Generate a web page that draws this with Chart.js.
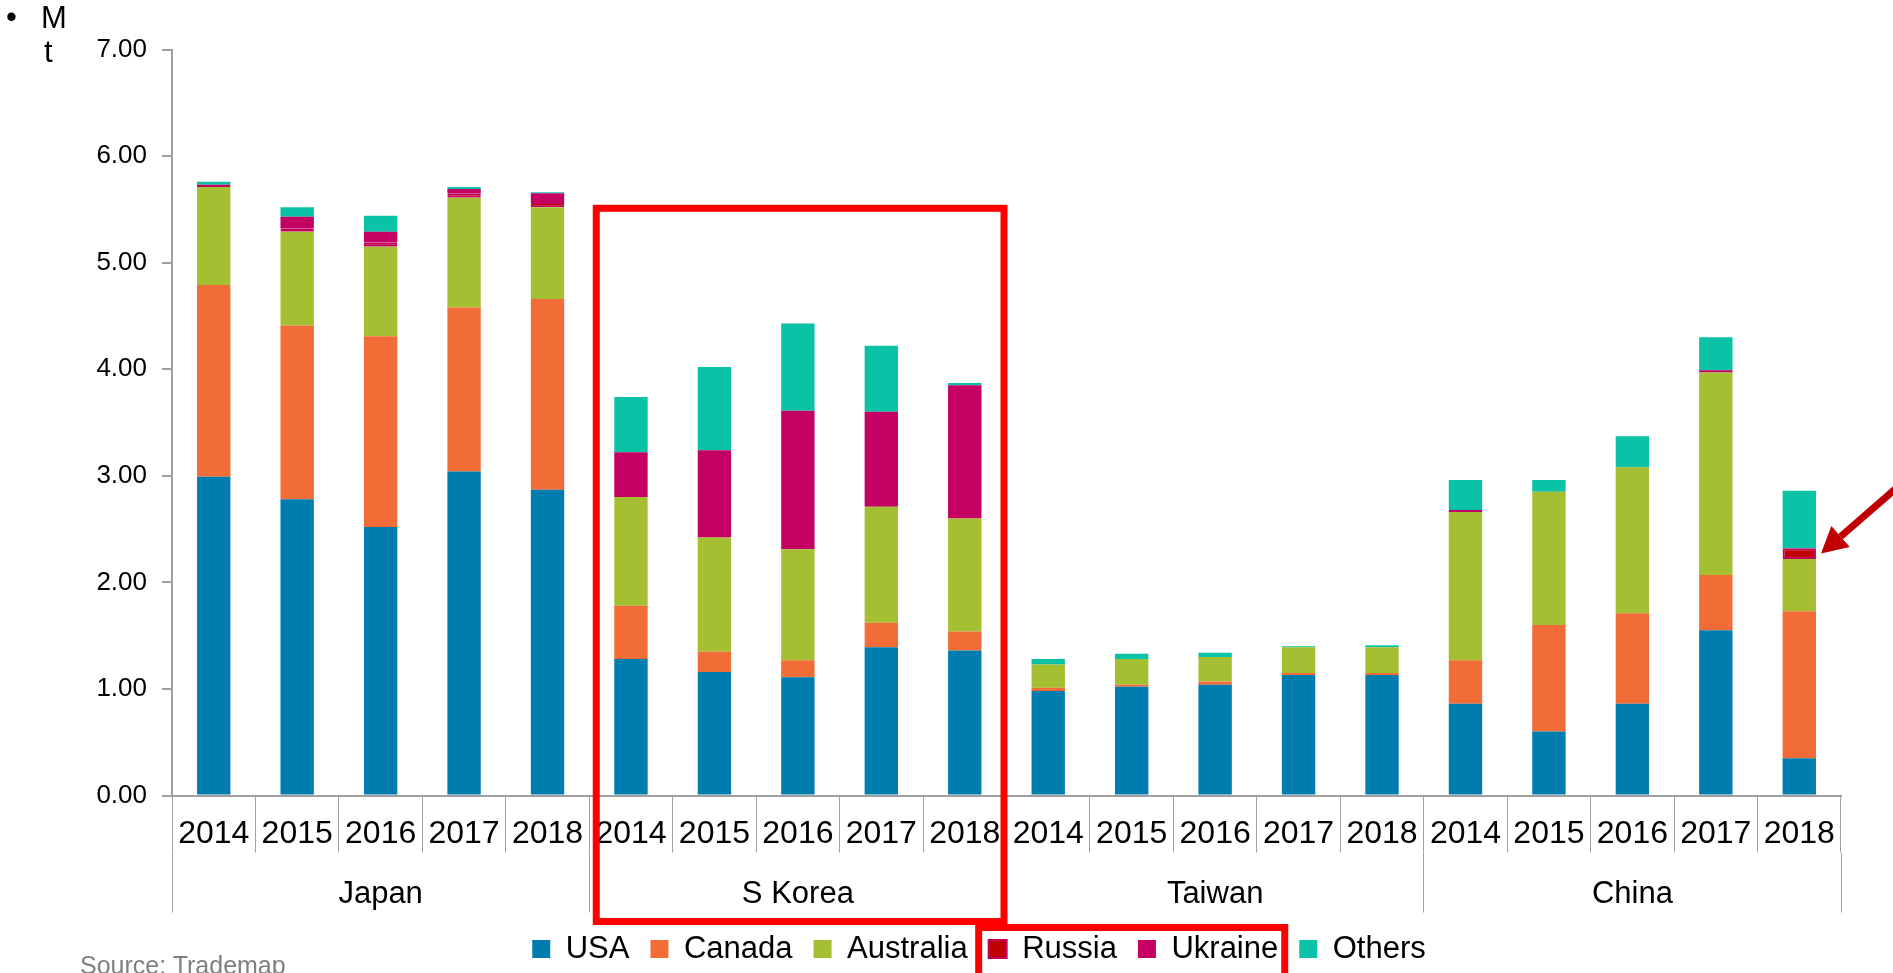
<!DOCTYPE html>
<html>
<head>
<meta charset="utf-8">
<title>Imports by origin, Mt</title>
<script src="https://cdn.jsdelivr.net/npm/chart.js@4.4.1/dist/chart.umd.min.js"></script>
<style>
  body { margin: 0; background: #fff; overflow: hidden; }
  #wrap { position: relative; width: 1893px; height: 973px; overflow: hidden; font-family: 'Liberation Sans', Arial, sans-serif; }
  #chart { position: absolute; left: 0; top: 0; }
  .note { position: absolute; line-height: 1; white-space: nowrap; color: #000; }
</style>
</head>
<body>
<div id="wrap">
  <canvas id="chart" width="1893" height="973"></canvas>
  <div class="note" style="left:6px; top:1px; font-size:31px;">•</div>
  <div class="note" style="left:41px; top:1.5px; font-size:31px;">M</div>
  <div class="note" style="left:44px; top:35.5px; font-size:31px;">t</div>
  <div class="note" style="left:80px; top:953px; font-size:25px; color:#808080;">Source: Trademap</div>
</div>
<script>
document.addEventListener('DOMContentLoaded', () => {
    const countries = ['Japan', 'S Korea', 'Taiwan', 'China'];
    const years = ['2014', '2015', '2016', '2017', '2018'];
    const yTicks = [0, 1, 2, 3, 4, 5, 6, 7];

    // Mt, order: Japan 2014-18, S Korea 2014-18, Taiwan 2014-18, China 2014-18
    const usa =       [2.99, 2.78, 2.52, 3.04, 2.87,  1.28, 1.16, 1.11, 1.39, 1.36,  0.98, 1.02, 1.04, 1.13, 1.13,  0.86, 0.60, 0.86, 1.55, 0.35];
    const canada =    [1.80, 1.63, 1.79, 1.54, 1.79,  0.50, 0.19, 0.16, 0.23, 0.18,  0.03, 0.02, 0.03, 0.02, 0.02,  0.41, 1.00, 0.85, 0.52, 1.38];
    const australia = [0.92, 0.88, 0.84, 1.03, 0.86,  1.02, 1.07, 1.04, 1.09, 1.06,  0.22, 0.24, 0.23, 0.24, 0.24,  1.39, 1.25, 1.37, 1.90, 0.49];
    const russia =    [0.01, 0.03, 0.04, 0.04, 0.05,  0, 0, 0, 0, 0,                 0, 0, 0, 0, 0,                 0, 0, 0, 0, 0.10];
    const ukraine =   [0.01, 0.11, 0.10, 0.04, 0.08,  0.42, 0.82, 1.30, 0.89, 1.25,  0, 0, 0, 0, 0,                 0.02, 0, 0, 0.02, 0];
    const others =    [0.03, 0.09, 0.15, 0.02, 0.01,  0.52, 0.78, 0.82, 0.62, 0.02,  0.05, 0.05, 0.04, 0.01, 0.02,  0.28, 0.11, 0.29, 0.31, 0.54];

    const labels = countries.flatMap(() => years);
    const axisGrey = '#A0A0A0';

    Chart.defaults.font.family = "'Liberation Sans', Arial, sans-serif";
    Chart.defaults.color = '#000';

    const series = [
        { label: 'USA', data: usa, fill: '#007DAF' },
        { label: 'Canada', data: canada, fill: '#F26C38' },
        { label: 'Australia', data: australia, fill: '#A5BF33' },
        { label: 'Russia', data: russia, fill: '#C00000', border: '#C4005E', bw: 2 },
        { label: 'Ukraine', data: ukraine, fill: '#C40062' },
        { label: 'Others', data: others, fill: '#0AC3A6' }
    ];

    // red highlight boxes and the arrow pointing at China 2018 Russia
    const highlights = {
        id: 'highlights',
        afterLayout(chart) {
            // legend sits a little right of the canvas centre
            chart.legend.left += 10;
            chart.legend.right += 10;
        },
        afterDraw(chart) {
            const { ctx, scales: { x, y } } = chart;
            const cat = (x.right - x.left) / labels.length;
            const edge = i => x.left + cat * i;
            const hits = chart.legend.legendHitBoxes;
            ctx.save();
            ctx.strokeStyle = '#FF0000';
            ctx.lineWidth = 7;

            const l = edge(5) + 7, r = edge(10) - 2.5;
            const t = y.getPixelForValue(5.51);
            const b = hits[3].top - 12;
            ctx.strokeRect(l, t, r - l, b - t);

            const ll = hits[3].left - 10;
            const lr = hits[4].left + hits[4].width + 6.5;
            const lt = hits[3].top - 6;
            ctx.strokeRect(ll, lt, lr - ll, 80);

            const bar = chart.getDatasetMeta(3).data[19];
            const tipX = bar.x + bar.width / 2 + 5;
            const tipY = (bar.y + bar.base) / 2;
            const ux = 0.755, uy = -0.656;
            const hx = tipX + ux * 26, hy = tipY + uy * 26;
            ctx.strokeStyle = '#C00000';
            ctx.fillStyle = '#C00000';
            ctx.beginPath();
            ctx.moveTo(tipX + ux * 110, tipY + uy * 110);
            ctx.lineTo(hx, hy);
            ctx.stroke();
            ctx.beginPath();
            ctx.moveTo(tipX, tipY);
            ctx.lineTo(hx - uy * 14, hy + ux * 14);
            ctx.lineTo(hx + uy * 14, hy - ux * 14);
            ctx.closePath();
            ctx.fill();
            ctx.restore();
        }
    };

    new Chart(document.getElementById('chart'), {
        type: 'bar',
        data: {
            labels: labels,
            datasets: series.map(s => ({
                label: s.label,
                data: s.data,
                backgroundColor: s.fill,
                borderColor: s.border || s.fill,
                borderWidth: s.bw || 0,
                borderSkipped: false,
                categoryPercentage: 1,
                barPercentage: 0.4
            }))
        },
        options: {
            responsive: false,
            animation: false,
            devicePixelRatio: 1,
            layout: { padding: { left: 97, right: 52, top: 49.5, bottom: -1.5 } },
            plugins: {
                tooltip: { enabled: false },
                legend: {
                    position: 'bottom',
                    labels: {
                        font: { size: 31 },
                        color: '#000',
                        boxWidth: 18,
                        boxHeight: 18,
                        padding: 21
                    }
                }
            },
            scales: {
                x: {
                    stacked: true,
                    offset: true,
                    grid: { drawOnChartArea: false, offset: true, tickLength: 57, color: axisGrey, lineWidth: 1 },
                    border: { color: axisGrey, width: 2 },
                    ticks: { font: { size: 32 }, color: '#000', padding: -38, autoSkip: false, maxRotation: 0, minRotation: 0 },
                    afterFit: s => { s.height = 57; }
                },
                x2: {
                    type: 'category',
                    position: 'bottom',
                    labels: countries,
                    offset: true,
                    grid: { drawOnChartArea: false, offset: true, tickLength: 60, color: axisGrey, lineWidth: 1 },
                    border: { display: false },
                    ticks: { font: { size: 31 }, color: '#000', padding: -37, autoSkip: false, maxRotation: 0, minRotation: 0 },
                    afterFit: s => { s.height = 60; }
                },
                y: {
                    stacked: true,
                    min: 0,
                    max: 7,
                    grid: { drawOnChartArea: false, tickLength: 10, color: axisGrey, lineWidth: 2 },
                    border: { color: axisGrey, width: 2 },
                    ticks: { font: { size: 26 }, color: '#000', padding: 15, callback: v => v.toFixed(2) },
                    afterBuildTicks: s => { s.ticks = yTicks.map(v => ({ value: v })); },
                    afterFit: s => { s.width = 75; }
                }
            }
        },
        plugins: [highlights]
    });
});
</script>
</body>
</html>
